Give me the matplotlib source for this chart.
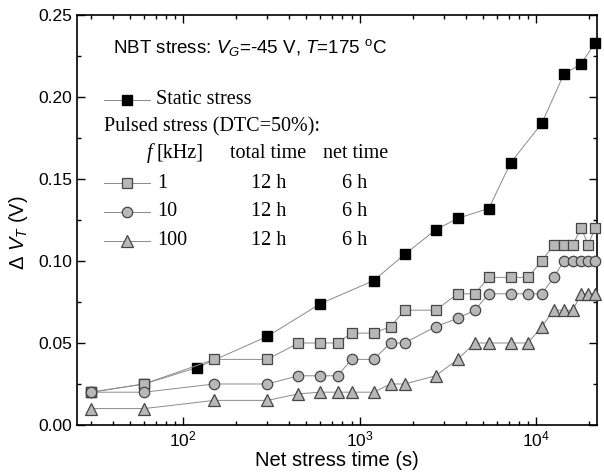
import matplotlib
matplotlib.use('Agg')
from matplotlib import pyplot as plt
from matplotlib.ticker import LogLocator, MultipleLocator, FormatStrFormatter

plt.rcParams['font.family'] = 'Liberation Sans'
plt.rcParams['mathtext.fontset'] = 'custom'
plt.rcParams['mathtext.rm'] = 'Liberation Sans'
plt.rcParams['mathtext.it'] = 'Liberation Sans:italic'

# static stress
t_static = [30, 60, 120, 300, 600, 1200, 1800, 2700, 3600, 5400, 7200, 10800, 14400, 18000, 21600]
dv_static = [0.02, 0.025, 0.035, 0.054, 0.074, 0.088, 0.104, 0.119, 0.126, 0.132, 0.160, 0.184, 0.214, 0.220, 0.233]

# pulsed stress, same net time points
t_pulsed = [30, 60, 150, 300, 450, 600, 750, 900, 1200, 1500, 1800, 2700, 3600, 4500, 5400,
            7200, 9000, 10800, 12600, 14400, 16200, 18000, 19800, 21600]
dv_1k = [0.02, 0.025, 0.04, 0.04, 0.05, 0.05, 0.05, 0.056, 0.056, 0.06, 0.07, 0.07, 0.08, 0.08, 0.09,
         0.09, 0.09, 0.10, 0.11, 0.11, 0.11, 0.12, 0.11, 0.12]
dv_10k = [0.02, 0.02, 0.025, 0.025, 0.03, 0.03, 0.03, 0.04, 0.04, 0.05, 0.05, 0.06, 0.065, 0.07, 0.08,
          0.08, 0.08, 0.08, 0.09, 0.10, 0.10, 0.10, 0.10, 0.10]
dv_100k = [0.01, 0.01, 0.015, 0.015, 0.019, 0.02, 0.02, 0.02, 0.02, 0.025, 0.025, 0.03, 0.04, 0.05, 0.05,
           0.05, 0.05, 0.06, 0.07, 0.07, 0.07, 0.08, 0.08, 0.08]

freqs = ['1', '10', '100']
total_time = ['12 h', '12 h', '12 h']
net_time = ['6 h', '6 h', '6 h']

grey = '#b8b8b8'
edge = '#454545'
line_c = '#8a8a8a'

fig = plt.figure(figsize=(6.04, 4.74), dpi=100)
ax = fig.add_axes([0.1275, 0.1034, 0.861, 0.8650])

ax.plot(t_static, dv_static, '-', color=line_c, lw=0.7, marker='s', ms=7, mfc='black', mec='black',
        zorder=2, clip_on=False)
styles = [('s', 7, dv_1k), ('o', 7.5, dv_10k), ('^', 8.5, dv_100k)]
for mk, ms, dv in styles:
    ax.plot(t_pulsed, dv, '-', color=line_c, lw=0.7, marker=mk, ms=ms, mfc=grey, mec=edge, mew=0.9,
            zorder=3, clip_on=False)

ax.set_xscale('log')
ax.set_xlim(25, 22200)
ax.set_ylim(0, 0.25)
ax.yaxis.set_major_locator(MultipleLocator(0.05))
ax.yaxis.set_minor_locator(MultipleLocator(0.025))
ax.yaxis.set_major_formatter(FormatStrFormatter('%.2f'))
ax.xaxis.set_major_locator(LogLocator(base=10))
ax.xaxis.set_minor_locator(LogLocator(base=10, subs=range(2, 10)))
ax.tick_params(which='both', direction='in', top=True, right=True, labelsize=12.5, width=1)
ax.tick_params(which='major', length=6)
ax.tick_params(which='minor', length=3)
for s in ax.spines.values():
    s.set_linewidth(1.2)

ax.set_xlabel('Net stress time (s)', fontsize=14.5, labelpad=1)
ax.set_ylabel('Δ $V_T$ (V)', fontsize=14.5)
ax.yaxis.set_label_coords(-0.09, 0.47)

# annotation / legend table
ax.text(0.069, 0.920, 'NBT stress: $V_G$=-45 V, $T$=175 $^{\\rm o}$C', transform=ax.transAxes,
        fontsize=13.5, va='center', ha='left')

serif = 'Liberation Serif'
fs = 14.5
ax.plot([0.052, 0.140], [0.793, 0.793], '-', color=line_c, lw=0.7, transform=ax.transAxes)
ax.plot([0.0956], [0.793], 's', ms=7, mfc='black', mec='black', transform=ax.transAxes)
ax.text(0.152, 0.793, 'Static stress', family=serif, fontsize=fs, va='center', transform=ax.transAxes)
ax.text(0.052, 0.727, 'Pulsed stress (DTC=50%):', family=serif, fontsize=fs, va='center', transform=ax.transAxes)
ax.text(0.135, 0.663, 'f', family=serif, style='italic', fontsize=fs, va='center', transform=ax.transAxes)
ax.text(0.152, 0.663, '[kHz]', family=serif, fontsize=fs, va='center', transform=ax.transAxes)
ax.text(0.294, 0.663, 'total time', family=serif, fontsize=fs, va='center', transform=ax.transAxes)
ax.text(0.473, 0.663, 'net time', family=serif, fontsize=fs, va='center', transform=ax.transAxes)

row_y = [0.590, 0.520, 0.449]
for (mk, ms, _), f, tt, nt, y in zip(styles, freqs, total_time, net_time, row_y):
    ax.plot([0.052, 0.140], [y, y], '-', color=line_c, lw=0.7, transform=ax.transAxes)
    ax.plot([0.0956], [y], mk, ms=ms, mfc=grey, mec=edge, mew=0.9, transform=ax.transAxes)
    ax.text(0.154, y, f, family=serif, fontsize=fs, va='center', transform=ax.transAxes)
    ax.text(0.369, y, tt, family=serif, fontsize=fs, va='center', ha='center', transform=ax.transAxes)
    ax.text(0.533, y, nt, family=serif, fontsize=fs, va='center', ha='center', transform=ax.transAxes)

fig.savefig('out.png', dpi=100)
